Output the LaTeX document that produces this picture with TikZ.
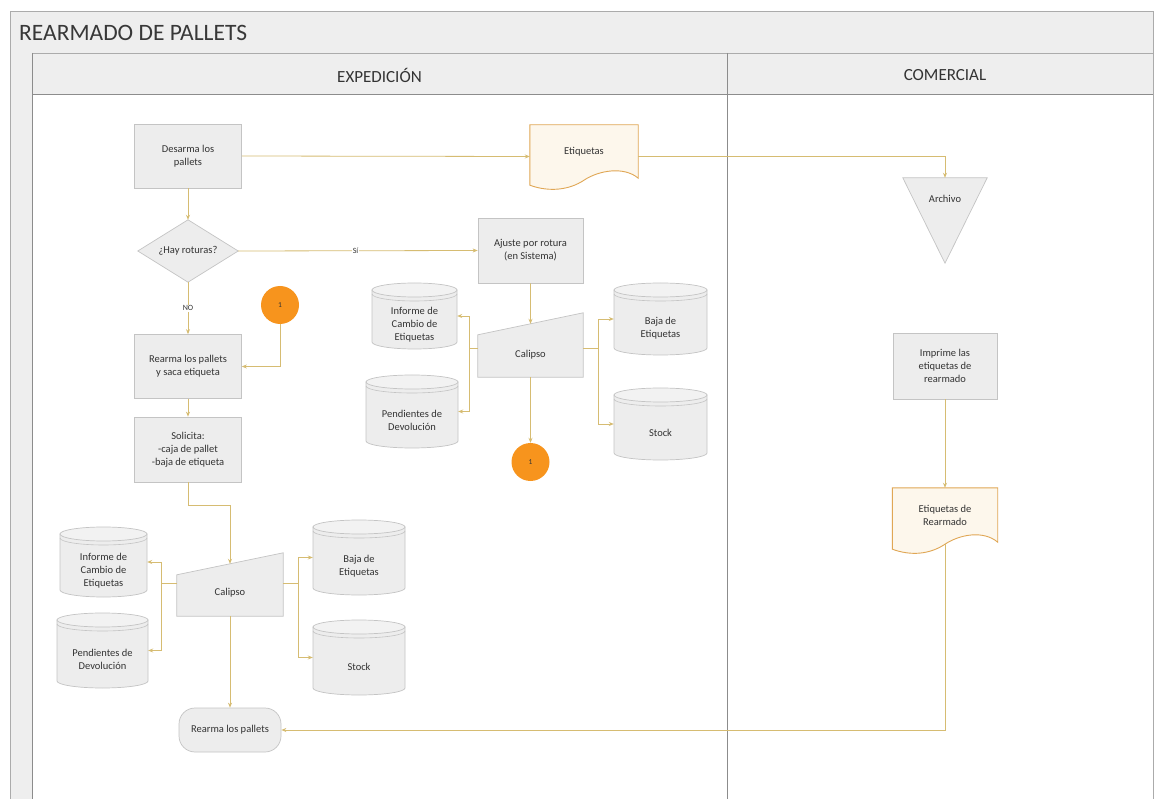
\documentclass[tikz,border=0pt]{standalone}
\usepackage{fontspec}
\setmainfont{Carlito}
\usetikzlibrary{calc,arrows.meta}

\definecolor{boxfill}{HTML}{EDEDED}
\definecolor{boxtop}{HTML}{F2F2F2}
\definecolor{boxline}{HTML}{C4C4C4}
\definecolor{docfill}{HTML}{FDF7EC}
\definecolor{docline}{HTML}{E0A755}
\definecolor{flowc}{HTML}{D6BC72}
\definecolor{orangec}{HTML}{F7941D}
\definecolor{lanefill}{HTML}{EEEEEE}
\definecolor{laneline}{HTML}{ABABAB}
\definecolor{lanedark}{HTML}{8C8C8C}
\definecolor{txt}{HTML}{333333}

\pgfdeclarelayer{back}
\pgfdeclarelayer{shapes}
\pgfsetlayers{back,shapes,main}

\tikzset{
  every node/.style={text=txt},
  lbl/.style={font=\fontsize{10.5}{13}\selectfont, align=center, inner sep=2pt},
  proc/.style={lbl, rectangle, fill=boxfill, draw=boxline, line width=0.7pt,
               minimum width=107, minimum height=64},
  holder/.style={rectangle, draw=none, fill=none, inner sep=0pt},
  term/.style={lbl, rectangle, rounded corners=16pt, fill=boxfill, draw=boxline,
               line width=0.7pt, minimum width=102, minimum height=44},
  conn/.style={circle, fill=orangec, draw=none, inner sep=0pt, minimum size=38,
               font=\fontsize{7.5}{8}\selectfont},
  shapeline/.style={fill=boxfill, draw=boxline, line width=0.7pt},
  docline/.style={fill=docfill, draw=docline, line width=0.9pt},
  flowline/.style={draw=flowc, line width=0.8pt},
  flow/.style={flowline, -{Stealth[length=5pt,width=4pt]}},
  branchlbl/.style={font=\fontsize{8}{9}\selectfont, fill=white, inner sep=1pt}
}

% database cylinder: name, x, y, width, height, text
\newcommand\dbnode[6]{%
  \begin{pgfonlayer}{shapes}
    \filldraw[shapeline]
      ({#2-#4/2},{#3-#5/2+7}) -- ({#2-#4/2},{#3+#5/2-7})
      arc[start angle=180, end angle=360, x radius={#4*0.5pt}, y radius=7pt]
      -- ({#2+#4/2},{#3-#5/2+7}) -- cycle;
    \draw[boxline, line width=0.6pt]
      ({#2-#4/2},{#3-#5/2+11})
      arc[start angle=180, end angle=360, x radius={#4*0.5pt}, y radius=7pt];
    \filldraw[fill=boxtop, draw=boxline, line width=0.7pt]
      (#2,{#3-#5/2+7}) ellipse [x radius={#4*0.5pt}, y radius=7pt];
  \end{pgfonlayer}
  \node[holder, minimum width=#4, minimum height=#5,
        label={[lbl, yshift=-9pt]center:{#6}}] (#1) at (#2,#3) {};}

% document outline with wavy lower edge around a holder node
\newcommand\docshape[1]{%
  \begin{pgfonlayer}{shapes}
    \filldraw[docline] (#1.north west) -- (#1.north east)
      -- ($(#1.south east)+(0,-10)$)
      .. controls ($(#1.south east)+(-14,-22)$) and ($(#1.south)+(15,-18)$) ..
      ($(#1.south)+(0,-8)$)
      .. controls ($(#1.south)+(-15,2)$) and ($(#1.south west)+(19,4)$) ..
      ($(#1.south west)+(0,-3)$) -- cycle;
  \end{pgfonlayer}}

\begin{document}
\begin{tikzpicture}[x=1pt,y=-1pt]
\useasboundingbox (0,0) rectangle (1157,799);

% pool and lanes
\begin{pgfonlayer}{back}
  \fill[white] (0,0) rectangle (1157,799);
  \fill[lanefill] (10,11) rectangle (1153,53);
  \fill[lanefill] (10,53) rectangle (32,799);
  \fill[lanefill] (32,53) rectangle (1153,95);
  \draw[laneline, line width=0.8pt] (10,799) -- (10,11) -- (1153,11) -- (1153,799);
  \draw[laneline, line width=0.8pt] (32,53) -- (1153,53);
  \draw[lanedark, line width=1pt] (32,95) -- (1153,95);
  \draw[lanedark, line width=0.8pt] (32,53) -- (32,799);
  \draw[lanedark, line width=0.8pt] (727,53) -- (727,799);
\end{pgfonlayer}

\node[anchor=base west, inner sep=0pt, font=\fontsize{23.5}{26}\selectfont, text=black!78]
  (title) at (19,41) {REARMADO DE PALLETS};
\node[font=\fontsize{17}{19}\selectfont] (laneexp) at (379.5,75) {EXPEDICIÓN};
\node[font=\fontsize{17}{19}\selectfont] (lanecom) at (945,75) {COMERCIAL};

% ---- Expedición: upper flow
\node[proc] (desarma) at (188,156) {Desarma los\\pallets};
\node[holder, minimum width=108, minimum height=63,
      label={[lbl, yshift=5pt]center:Etiquetas}] (etiq) at (584,156.5) {};
\docshape{etiq}

\node[holder, minimum width=100, minimum height=62] (hay) at (188,251) {};
\node[lbl] (haytxt) at (hay.center) {¿Hay roturas?};
\begin{pgfonlayer}{shapes}
  \filldraw[shapeline] (hay.north) -- (hay.east) -- (hay.south) -- (hay.west) -- cycle;
\end{pgfonlayer}

\node[proc, minimum width=105, minimum height=65] (ajuste) at (530.5,250.5)
  {Ajuste por rotura\\(en Sistema)};
\node[conn] (cona) at (280,305) {1};
\node[proc] (rearma) at (188,366.5) {Rearma los pallets\\y saca etiqueta};
\node[proc, minimum height=65] (solicita) at (188,449.5)
  {Solicita:\\-caja de pallet\\-baja de etiqueta};

% Calipso (upper) and its stores
\node[holder, minimum width=105, minimum height=64,
      label={[lbl, yshift=-10pt]center:Calipso}] (cal1) at (530.5,345) {};
\coordinate (cal1tl) at ($(cal1.north west)+(0,22)$);
\coordinate (cal1in) at ($(cal1tl)!0.5!(cal1.north east)$);
\begin{pgfonlayer}{shapes}
  \filldraw[shapeline] (cal1.south west) -- (cal1.south east) -- (cal1.north east)
    -- (cal1tl) -- cycle;
\end{pgfonlayer}
\dbnode{inf1}{414.5}{316}{85}{66}{Informe de\\Cambio de\\Etiquetas}
\dbnode{pen1}{412}{411.5}{92}{73}{Pendientes de\\Devolución}
\dbnode{bas1}{660.5}{319}{93}{72}{Baja de\\Etiquetas}
\dbnode{sto1}{660.5}{424}{93}{72}{Stock}
\node[conn] (conb) at (530.5,462) {1};

% Calipso (lower) and its stores
\node[holder, minimum width=106, minimum height=63,
      label={[lbl, yshift=-8pt]center:Calipso}] (cal2) at (230,584.5) {};
\coordinate (cal2tl) at ($(cal2.north west)+(0,22)$);
\coordinate (cal2in) at ($(cal2tl)!0.5!(cal2.north east)$);
\begin{pgfonlayer}{shapes}
  \filldraw[shapeline] (cal2.south west) -- (cal2.south east) -- (cal2.north east)
    -- (cal2tl) -- cycle;
\end{pgfonlayer}
\dbnode{inf2}{103.5}{562}{87}{70}{Informe de\\Cambio de\\Etiquetas}
\dbnode{pen2}{102.5}{650.5}{91}{75}{Pendientes de\\Devolución}
\dbnode{bas2}{359}{557.5}{92}{75}{Baja de\\Etiquetas}
\dbnode{sto2}{359}{657.5}{92}{75}{Stock}

\node[term] (rearmafin) at (230,730) {Rearma los pallets};

% ---- Comercial
\node[holder, minimum width=84, minimum height=85,
      label={[lbl, yshift=22pt]center:Archivo}] (archivo) at (945,220.5) {};
\begin{pgfonlayer}{shapes}
  \filldraw[shapeline] (archivo.north west) -- (archivo.north east)
    -- (archivo.south) -- cycle;
\end{pgfonlayer}
\node[proc, minimum width=104, minimum height=66] (imprime) at (945,366)
  {Imprime las\\etiquetas de\\rearmado};
\node[holder, minimum width=105, minimum height=64,
      label={[lbl, yshift=5pt]center:{Etiquetas de\\Rearmado}}] (etrear) at (945,520) {};
\docshape{etrear}

% ---- connectors
\draw[flow] (desarma.east) -- (etiq.west);
\draw[flow] (etiq.east) -| (archivo.north);
\draw[flow] (desarma.south) -- (hay.north);
\draw[flow] (hay.east) -- node[branchlbl, pos=0.49] (lblsi) {Sí} (ajuste.west);
\draw[flow] (hay.south) -- node[branchlbl] (lblno) {NO} (rearma.north);
\draw[flow] (cona.south) |- (rearma.east);
\draw[flow] (rearma.south) -- (solicita.north);
\draw[flow] (solicita.south) -- ++(0,23) -| (cal2in);

\draw[flow] (ajuste.south) -- (cal1in);
\coordinate (jl1) at ($(cal1.west)+(-8,3)$);
\coordinate (jr1) at ($(cal1.east)+(15,3)$);
\draw[flowline] (cal1.west |- jl1) -- (jl1);
\draw[flow] (jl1) |- (inf1.east);
\draw[flow] (jl1) |- (pen1.east);
\draw[flowline] (cal1.east |- jr1) -- (jr1);
\draw[flow] (jr1) |- (bas1.west);
\draw[flow] (jr1) |- (sto1.west);
\draw[flow] (cal1.south) -- (conb.north);

\coordinate (jl2) at ($(cal2.west)+(-15,-1)$);
\coordinate (jr2) at ($(cal2.east)+(15,-1)$);
\draw[flowline] (cal2.west |- jl2) -- (jl2);
\draw[flow] (jl2) |- (inf2.east);
\draw[flow] (jl2) |- (pen2.east);
\draw[flowline] (cal2.east |- jr2) -- (jr2);
\draw[flow] (jr2) |- (bas2.west);
\draw[flow] (jr2) |- (sto2.west);
\draw[flow] (cal2.south) -- (rearmafin.north);

\draw[flow] (imprime.south) -- (etrear.north);
\draw[flow] ($(etrear.south)+(0,-8)$) |- (rearmafin.east);
\end{tikzpicture}
\end{document}
